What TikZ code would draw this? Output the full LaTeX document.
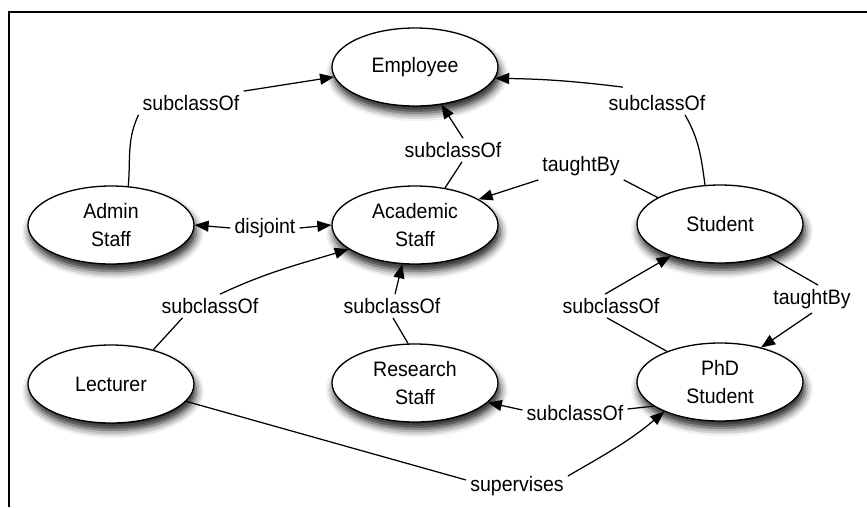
\documentclass[tikz,border=0pt]{standalone}
\usepackage{fontspec}
\setmainfont{Liberation Sans}[FakeStretch=0.935]
\usetikzlibrary{arrows.meta,shapes.geometric,shadows.blur}

\begin{document}
\begin{tikzpicture}[x=1pt,y=-1pt,
  every node/.style={font=\fontsize{20.9}{28}\selectfont},
  cls/.style={ellipse, draw, line width=1.3pt, fill=white,
    minimum width=166pt, minimum height=78pt, inner sep=0pt, align=center,
    blur shadow={shadow xshift=2pt, shadow yshift=-7pt,
      shadow blur radius=8pt, shadow opacity=90}},
  lbl/.style={inner sep=4pt},
  rel/.style={line width=1.25pt},
  arr/.style={rel, -{Triangle[length=14pt,width=11pt]}},
  biarr/.style={rel, {Triangle[length=14pt,width=11pt]}-},
]
\useasboundingbox (0,0) rectangle (867,507);
\draw[line width=1.2pt] (9,507) -- (9,12) -- (867,12);

% classes
\node[cls] (emp) at (415,67)  {Employee};
\node[cls] (adm) at (111,225) {Admin\\Staff};
\node[cls] (aca) at (415,225) {Academic\\Staff};
\node[cls] (stu) at (720,224) {Student};
\node[cls] (lec) at (111,384) {Lecturer};
\node[cls] (res) at (415,383) {Research\\Staff};
\node[cls] (phd) at (720,382) {PhD\\Student};

% relation labels
\node[lbl] (l1)  at (191,103) {subclassOf};
\node[lbl] (l2)  at (453,150) {subclassOf};
\node[lbl] (l3)  at (657,103) {subclassOf};
\node[lbl] (l4)  at (581,166) {taughtBy};
\node[lbl] (l5)  at (265,228) {disjoint};
\node[lbl] (l6)  at (210,306) {subclassOf};
\node[lbl] (l7)  at (392,306) {subclassOf};
\node[lbl] (l8)  at (611,306) {subclassOf};
\node[lbl] (l9)  at (812,299) {taughtBy};
\node[lbl] (l10) at (575,413) {subclassOf};
\node[lbl] (l11) at (517,486) {supervises};

% Admin Staff -> Employee
\draw[rel] (adm.66) to[out=85,in=-115] (l1.south west);
\draw[arr] (l1.north east) -- (emp.187);
% Academic Staff -> Employee
\draw[rel] (aca.51) -- ([xshift=9pt]l2.south);
\draw[arr] ([xshift=10pt]l2.north) -- (emp.-55);
% Student -> Employee
\draw[rel] (stu.111) to[out=98,in=-60] ([xshift=28pt]l3.south);
\draw[arr] ([xshift=-34pt,yshift=4pt]l3.north) to[bend right=3] (emp.-8);
% Student taughtBy Academic Staff
\draw[rel] (stu.157) -- (l4.south east);
\draw[arr] (l4.south west) -- (aca.22);
% disjoint
\draw[biarr] (adm.east) -- (l5.west);
\draw[arr] (l5.east) -- (aca.west);
% Lecturer -> Academic Staff
\draw[rel] (lec.39) -- ([xshift=25pt]l6.south west);
\draw[arr] ([xshift=10pt]l6.north) to[out=25,in=197] (aca.200);
% Research Staff -> Academic Staff
\draw[rel] (res.100) -- ([xshift=1pt]l7.south);
\draw[arr] ([xshift=3pt]l7.north) -- (aca.252);
% PhD Student -> Student
\draw[rel] (phd.150) -- ([xshift=-4pt]l8.south);
\draw[arr] ([xshift=-6pt]l8.north) -- (stu.213);
% Student taughtBy PhD Student
\draw[rel] (stu.-34) -- ([xshift=6pt]l9.north);
\draw[arr] (l9.south) -- (phd.40);
% PhD Student -> Research Staff
\draw[rel] (phd.200) -- ([yshift=4pt]l10.east);
\draw[arr] ([yshift=3pt]l10.west) -- (res.-15);
% Lecturer supervises PhD Student
\draw[rel] (lec.-13) -- ([yshift=6pt]l11.west);
\draw[arr] ([yshift=10pt]l11.east) to[out=30,in=-140] (phd.208);
\end{tikzpicture}
\end{document}
